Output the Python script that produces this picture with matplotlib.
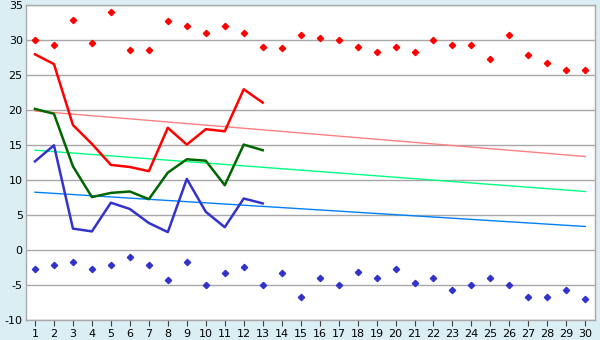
import matplotlib
matplotlib.use('Agg')
import matplotlib.pyplot as plt
import numpy as np

plt.rcParams['axes.unicode_minus'] = False

days = list(range(1, 31))

# upper scatter (red) and lower scatter (blue)
upper_pts = [30.0, 29.4, 32.9, 29.6, 34.0, 28.6, 28.6, 32.7, 32.0, 31.1,
             32.0, 31.1, 29.0, 28.9, 30.7, 30.4, 30.0, 29.0, 28.4, 29.1,
             28.4, 30.0, 29.4, 29.4, 27.4, 30.7, 27.9, 26.7, 25.7, 25.7]
lower_pts = [-2.7, -2.1, -1.6, -2.7, -2.1, -1.0, -2.1, -4.3, -1.6, -5.0,
             -3.3, -2.4, -5.0, -3.3, -6.6, -3.9, -5.0, -3.1, -3.9, -2.7,
             -4.6, -3.9, -5.6, -5.0, -3.9, -5.0, -6.6, -6.6, -5.6, -7.0]

# measured series (first 13 days)
line_days = list(range(1, 14))
red_line = [28.0, 26.6, 17.9, 15.2, 12.2, 11.9, 11.3, 17.5, 15.1, 17.3, 17.0, 23.0, 21.1]
green_line = [20.2, 19.5, 12.0, 7.6, 8.2, 8.4, 7.3, 11.1, 13.0, 12.8, 9.3, 15.1, 14.3]
blue_line = [12.7, 15.0, 3.1, 2.7, 6.8, 5.9, 3.9, 2.6, 10.2, 5.5, 3.3, 7.4, 6.7]

# trend lines: value at day 1 and day 30
trend_days = [1, 30]
red_trend = [19.9, 13.4]
green_trend = [14.3, 8.4]
blue_trend = [8.3, 3.4]

bg = '#DAEEF4'
fig = plt.figure(figsize=(6, 3.4), dpi=100, facecolor=bg)
ax = fig.add_axes([25.5 / 600, (340 - 320.3) / 340, (594.8 - 25.5) / 600, (320.3 - 5.3) / 340])
ax.set_facecolor('white')

ax.plot(trend_days, red_trend, color='#FF8080', lw=1.0, zorder=2)
ax.plot(trend_days, green_trend, color='#00FF80', lw=1.0, zorder=2)
ax.plot(trend_days, blue_trend, color='#0080FF', lw=1.0, zorder=2)

ax.plot(line_days, red_line, color='#FF0000', lw=1.8, zorder=3)
ax.plot(line_days, green_line, color='#006600', lw=1.8, zorder=3)
ax.plot(line_days, blue_line, color='#3333CC', lw=1.8, zorder=3)

ax.plot(days, upper_pts, ls='none', marker='D', ms=3.2, color='#FF0000', zorder=4)
ax.plot(days, lower_pts, ls='none', marker='D', ms=3.2, color='#3333CC', zorder=4)

ax.set_xlim(0.5, 30.5)
ax.set_ylim(-10, 35)
ax.set_xticks(days)
ax.set_yticks(np.arange(-10, 36, 5))
ax.grid(axis='y', color='#A8A8A8', lw=1.0)
ax.set_axisbelow(True)
for s in ax.spines.values():
    s.set_color('#A8A8A8')
    s.set_linewidth(1.0)
ax.tick_params(axis='x', length=4, color='#404040', labelsize=8, pad=2)
ax.tick_params(axis='y', length=0, labelsize=8, pad=2)

fig.savefig('out.png', dpi=100, facecolor=bg)
